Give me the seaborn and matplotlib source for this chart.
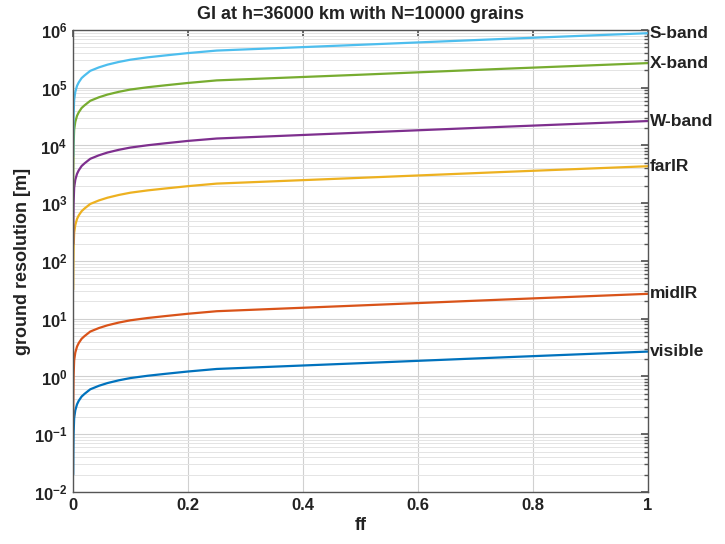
import matplotlib
matplotlib.use("Agg")
import matplotlib.pyplot as plt
import matplotlib.ticker as mticker
import numpy as np
import pandas as pd
import seaborn as sns

# ---- data ----
ff = [0.0003, 0.0006, 0.001, 0.002, 0.004, 0.007, 0.01, 0.015, 0.02, 0.03, 0.045,
      0.06, 0.08, 0.1, 0.13, 0.16, 0.2, 0.25, 0.5, 0.75, 1.0]
visible = [0.02, 0.05, 0.1, 0.19, 0.26, 0.33, 0.38, 0.45, 0.5, 0.6, 0.69,
           0.77, 0.86, 0.94, 1.03, 1.11, 1.22, 1.35, 1.7, 2.15, 2.7]
midIR = [0.2, 0.5, 1.0, 1.9, 2.6, 3.3, 3.8, 4.5, 5.0, 6.0, 6.9,
         7.7, 8.6, 9.4, 10.3, 11.1, 12.2, 13.5, 17.0, 21.5, 27.0]
farIR = [32, 81, 162, 308, 421, 535, 616, 729, 810, 972, 1118,
         1247, 1393, 1523, 1669, 1798, 1976, 2187, 2754, 3483, 4374]
Wband = [196, 490, 980, 1860, 2550, 3230, 3720, 4410, 4900, 5880, 6760,
         7550, 8430, 9210, 10100, 10900, 12000, 13200, 16700, 21100, 26500]
Xband = [1980, 4950, 9900, 18800, 25700, 32700, 37600, 44600, 49500, 59400, 68300,
         76200, 85100, 93100, 102000, 110000, 121000, 134000, 168000, 213000, 267000]
Sband = [6500, 16300, 32600, 61900, 84800, 108000, 124000, 147000, 163000, 196000, 225000,
         251000, 280000, 306000, 336000, 362000, 398000, 440000, 554000, 701000, 880000]

names = ["visible", "midIR", "farIR", "W-band", "X-band", "S-band"]
series = [visible, midIR, farIR, Wband, Xband, Sband]
colors = ["#0072BD", "#D95319", "#EDB120", "#7E2F8E", "#77AC30", "#4DBEEE"]
yticks_exp = [-2, -1, 0, 1, 2, 3, 4, 5, 6]
xticks = [0, 0.2, 0.4, 0.6, 0.8, 1]
xtick_labels = ["0", "0.2", "0.4", "0.6", "0.8", "1"]

df = pd.DataFrame({
    "ff": np.tile(ff, len(names)),
    "res": np.concatenate(series),
    "band": np.repeat(names, len(ff)),
})

sns.set_theme(style="white")
plt.rcParams["font.family"] = ["Liberation Sans", "DejaVu Sans"]
plt.rcParams["mathtext.fontset"] = "custom"
plt.rcParams["mathtext.bf"] = "Liberation Sans:bold"
plt.rcParams["mathtext.rm"] = "Liberation Sans:bold"

fig = plt.figure(figsize=(7.25, 5.44), dpi=100)
ax = fig.add_axes([0.1007, 0.0956, 0.7931, 0.8493])

sns.lineplot(data=df, x="ff", y="res", hue="band", palette=dict(zip(names, colors)),
             linewidth=1.6, legend=False, ax=ax, estimator=None, sort=True)

ax.set_yscale("log")
ax.set_xlim(0, 1)
ax.set_ylim(1e-2, 1e6)
ax.set_yticks([10.0 ** e for e in yticks_exp])
ax.yaxis.set_major_formatter(mticker.FuncFormatter(
    lambda v, p: r"$\mathbf{10^{%d}}$" % int(round(np.log10(v)))))
ax.yaxis.set_minor_locator(mticker.LogLocator(base=10, subs=np.arange(2, 10), numticks=100))
ax.yaxis.set_minor_formatter(mticker.NullFormatter())
ax.set_xticks(xticks)
ax.set_xticklabels(xtick_labels)

ax.grid(True, which="major", color="#d0d0d0", linewidth=0.8)
ax.grid(True, which="minor", axis="y", color="#e4e4e4", linewidth=0.7)
ax.set_axisbelow(True)

for s in ax.spines.values():
    s.set_color("#555555")
    s.set_linewidth(1.0)
ax.tick_params(axis="both", which="both", direction="in", top=True, right=True,
               colors="#555555", labelcolor="#222222")
ax.tick_params(axis="both", which="major", length=5, labelsize=12, pad=4)
ax.tick_params(axis="y", which="minor", length=3)
for lab in ax.get_xticklabels():
    lab.set_fontweight("bold")

ax.set_xlabel("ff", fontsize=13, fontweight="bold", color="#222222", labelpad=3)
ax.set_ylabel("ground resolution [m]", fontsize=13, fontweight="bold", color="#222222", labelpad=2)
ax.set_title("GI at h=36000 km with N=10000 grains", fontsize=13, fontweight="bold",
             color="#222222", pad=8)

for name, vals in zip(names, series):
    ax.text(1.003, vals[-1], name, transform=ax.get_yaxis_transform(),
            fontsize=12.5, fontweight="bold", color="#222222", va="center", ha="left",
            clip_on=False)

fig.savefig("out.png", dpi=100)
